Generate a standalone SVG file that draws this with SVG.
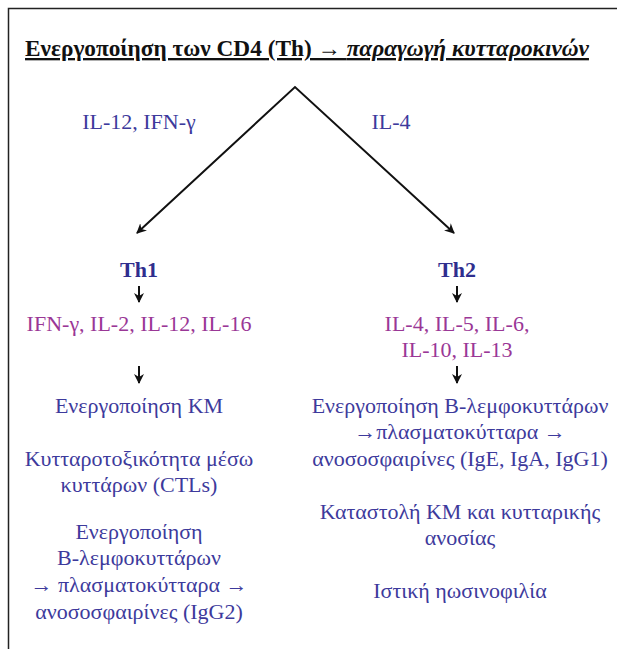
<svg xmlns="http://www.w3.org/2000/svg" width="617" height="649" viewBox="0 0 617 649">
<defs>
<marker id="ah" viewBox="0 0 10 10" refX="9" refY="5" markerWidth="5" markerHeight="5" orient="auto-start-reverse" markerUnits="strokeWidth">
<path d="M0,0 L10,5 L0,10 L3,5 z" fill="#111"/>
</marker>
<marker id="ahs" viewBox="0 0 10 10" refX="9" refY="5" markerWidth="5" markerHeight="6" orient="auto" markerUnits="strokeWidth">
<path d="M0,0 L10,5 L0,10 L3,5 z" fill="#111"/>
</marker>
</defs>
<style>
text{font-family:"Liberation Serif","DejaVu Serif",serif;font-size:22px;text-anchor:middle}
.b{fill:#3d3a9c}
.m{fill:#9a3796}
.h{fill:#2f2e8e;font-weight:bold}
.t{fill:#111;font-weight:bold;text-decoration:underline;font-size:23.3px}
.c{stroke:#111;stroke-width:2;fill:none}
.s{stroke:#111;stroke-width:2;fill:none}
</style>
<rect x="0" y="0" width="617" height="649" fill="#fff"/>
<path d="M8.5,660 V8.5 H630" stroke="#222" stroke-width="1.5" fill="none"/>
<g id="title">
<text class="t" x="307" y="56">Ενεργοποίηση των CD4 (Th) →  <tspan font-style="italic">παραγωγή κυτταροκινών</tspan></text>
</g>
<g id="connectors">
<path class="c" d="M137,233 L295,87 L454,233" marker-start="url(#ah)" marker-end="url(#ah)"/>
<path class="s" d="M139,286 V302" marker-end="url(#ahs)"/>
<path class="s" d="M139,366 V383" marker-end="url(#ahs)"/>
<path class="s" d="M457,286 V302" marker-end="url(#ahs)"/>
<path class="s" d="M457,366 V383" marker-end="url(#ahs)"/>
</g>
<g id="label-left"><text class="b" x="139" y="129">IL-12, IFN-γ</text></g>
<g id="label-right"><text class="b" x="391" y="129">IL-4</text></g>
<g id="th1">
<text class="h" x="139" y="277">Th1</text>
</g>
<g id="th1-cyt">
<text class="m" x="139" y="331">IFN-γ, IL-2, IL-12, IL-16</text>
</g>
<g id="th1-effects">
<text class="b" x="139" y="413">Ενεργοποίηση ΚΜ</text>
<text class="b" x="139" y="466">Κυτταροτοξικότητα μέσω</text>
<text class="b" x="139" y="492">κυττάρων (CTLs)</text>
<text class="b" x="139" y="539">Ενεργοποίηση</text>
<text class="b" x="139" y="565">Β-λεμφοκυττάρων</text>
<text class="b" x="139" y="592">→ πλασματοκύτταρα →</text>
<text class="b" x="139" y="619">ανοσοσφαιρίνες (IgG2)</text>
</g>
<g id="th2">
<text class="h" x="457" y="277">Th2</text>
</g>
<g id="th2-cyt">
<text class="m" x="457" y="331">IL-4, IL-5, IL-6,</text>
<text class="m" x="457" y="357">IL-10, IL-13</text>
</g>
<g id="th2-effects">
<text class="b" x="460" y="413">Ενεργοποίηση Β-λεμφοκυττάρων</text>
<text class="b" x="460" y="439">→πλασματοκύτταρα →</text>
<text class="b" x="460" y="466">ανοσοσφαιρίνες (IgE, IgA, IgG1)</text>
<text class="b" x="460" y="519">Καταστολή ΚΜ και κυτταρικής</text>
<text class="b" x="460" y="545">ανοσίας</text>
<text class="b" x="460" y="598">Ιστική ηωσινοφιλία</text>
</g>
</svg>
